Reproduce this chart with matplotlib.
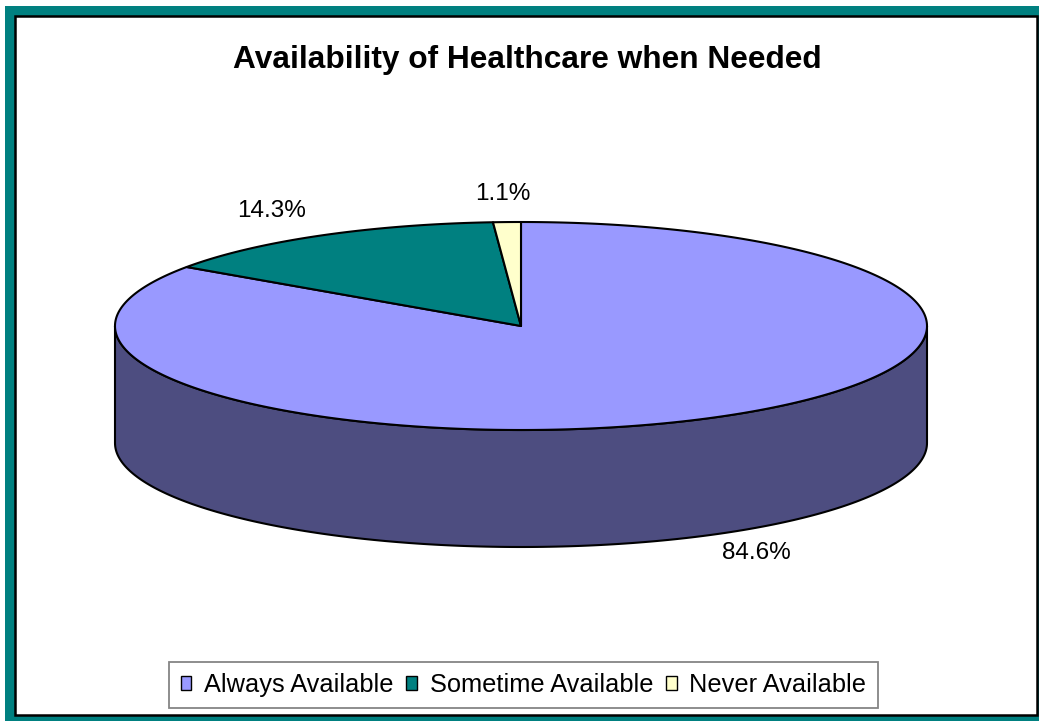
import numpy as np
import matplotlib
matplotlib.use("Agg")
import matplotlib.pyplot as plt
from matplotlib.patches import Polygon, Rectangle, Patch

plt.rcParams['font.family'] = ['Liberation Sans', 'DejaVu Sans']

# Data
categories = ["Always Available", "Sometime Available", "Never Available"]
percentages = [84.6, 14.3, 1.1]
top_colors = ["#9999FF", "#008080", "#FFFFCC"]
side_colors = ["#4D4D80", "#004040", "#80806A"]
title = "Availability of Healthcare when Needed"

W, H = 1039, 721
fig = plt.figure(figsize=(W / 100, H / 100), dpi=100)
ax = fig.add_axes([0, 0, 1, 1])
ax.set_xlim(0, W)
ax.set_ylim(H, 0)
ax.axis("off")

# Chart-area frame
ax.add_patch(Rectangle((5, 6), W, H, facecolor="#008080", edgecolor="none", zorder=0))
ax.add_patch(Rectangle((15, 16), 1022, 699, facecolor="white", edgecolor="black",
                       linewidth=1.8, zorder=1))

ax.text(527, 60, title, ha="center", va="center", fontsize=22.8, fontweight="bold", zorder=5)

# 3D pie geometry (ellipse centre, radii, thickness)
cx, cy, a, b, depth = 521, 326, 406, 104, 117
edge_kw = dict(edgecolor="black", linewidth=1.5, joinstyle="round")


def ell(theta_deg, dy=0.0):
    t = np.radians(theta_deg)
    return np.column_stack([cx + a * np.cos(t), cy - b * np.sin(t) + dy])


total = sum(percentages)
angles = []
start = 90.0
for v in percentages:
    sweep = 360.0 * v / total
    angles.append((start, start - sweep))
    start -= sweep

# Side walls: only the front half (180..360 deg) is visible
for (s, e), col in zip(angles, side_colors):
    lo, hi = e, s
    segs = []
    for shift in (-360, 0, 360):
        l2, h2 = max(lo + shift, 180), min(hi + shift, 360)
        if h2 > l2:
            segs.append((l2, h2))
    for l2, h2 in segs:
        th = np.linspace(l2, h2, 200)
        pts = np.vstack([ell(th), ell(th[::-1], depth)])
        ax.add_patch(Polygon(pts, closed=True, facecolor=col, zorder=2, **edge_kw))

# Top faces
for (s, e), col in zip(angles, top_colors):
    th = np.linspace(s, e, max(int(abs(s - e) * 3), 10))
    pts = np.vstack([[cx, cy], ell(th)])
    ax.add_patch(Polygon(pts, closed=True, facecolor=col, zorder=3, **edge_kw))

# Percentage labels
label_pos = [(756, 553), (272, 211), (503, 194)]
for v, (lx, ly) in zip(percentages, label_pos):
    ax.text(lx, ly, f"{v:.1f}%", ha="center", va="center", fontsize=17.5, zorder=5)

# Legend
handles = [Patch(facecolor=c, edgecolor="black", linewidth=1.0) for c in top_colors]
leg = ax.legend(handles, categories, loc="center", bbox_to_anchor=(523.5, 685),
                bbox_transform=ax.transData, ncol=3, fontsize=18.3, frameon=True,
                fancybox=False, handlelength=0.42, handleheight=0.45,
                handletextpad=0.5, columnspacing=0.5, borderpad=0.45,
                borderaxespad=0)
leg.get_frame().set_edgecolor("#666666")
leg.get_frame().set_linewidth(1.3)
leg.set_zorder(6)

fig.savefig("out.png", dpi=100)
